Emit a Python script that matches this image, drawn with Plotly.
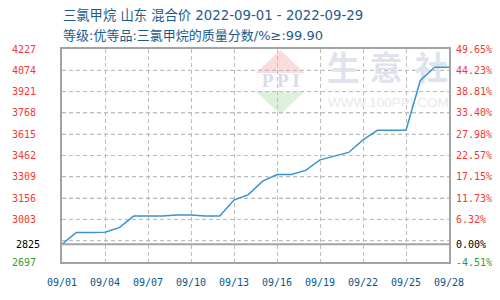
import plotly.graph_objects as go
import pandas as pd

# ---- data ----
dates = ["2022-09-%02d" % d for d in range(1, 29)]
prices = [2825, 2909, 2909, 2911, 2944, 3027, 3027, 3027, 3034, 3034,
          3027, 3027, 3142, 3181, 3278, 3325, 3325, 3355, 3431, 3458,
          3484, 3574, 3643, 3643, 3643, 4001, 4096, 4096]

x_tick_dates = ["2022-09-01", "2022-09-04", "2022-09-07", "2022-09-10", "2022-09-13",
                "2022-09-16", "2022-09-19", "2022-09-22", "2022-09-25", "2022-09-28"]
x_tick_labels = ["09/01", "09/04", "09/07", "09/10", "09/13",
                 "09/16", "09/19", "09/22", "09/25", "09/28"]

# left axis: regular grid ticks (2850 is an unlabeled grid line)
grid_vals = [4227, 4074, 3921, 3768, 3615, 3462, 3309, 3156, 3003, 2850, 2697]
grid_labels = ["4227", "4074", "3921", "3768", "3615", "3462", "3309", "3156", "3003", "", "2697"]
base_value = 2825
base_label = "2825"

# right axis (change vs. base)
pct_tick_vals = [4227, 4074, 3921, 3768, 3615, 3462, 3309, 3156, 3003, 2825, 2697]
pct_tick_labels = ["49.65%", "44.23%", "38.81%", "33.40%", "27.98%", "22.57%",
                   "17.15%", "11.73%", "6.32%", "0.00%", "-4.51%"]

title_1 = "三氯甲烷 山东 混合价 2022-09-01 - 2022-09-29"
title_2 = "等级:优等品:三氯甲烷的质量分数/%≥:99.90"

RED = "#f03838"
GREEN = "#2aa02a"
BLACK = "#000000"
GRID = "#bdbdbd"
BORDER = "#a3a3a3"
DASH = "4px,3px"
TICKFONT = "DejaVu Sans Mono, monospace"

x_range = ["2022-09-01", "2022-09-28"]
y_range = [2697, 4227]


def color_of(v):
    return RED if v > base_value else (BLACK if v == base_value else GREEN)


def colored(lbls, vals):
    return ['<span style="color:%s">%s</span>' % (color_of(v), t) if t else ""
            for t, v in zip(lbls, vals)]


# plot-area pixel -> axis value helpers (plot area is x 50..449, y 49..270)
t0, t1 = pd.Timestamp(x_range[0]), pd.Timestamp(x_range[1])


def px2date(p):
    return (t0 + (t1 - t0) * ((p - 50) / 399.0)).strftime("%Y-%m-%d %H:%M:%S")


def py2val(p):
    return y_range[0] + (y_range[1] - y_range[0]) * ((270 - p) / 221.0)


def px2x(p):
    return (p - 50) / 399.0


def py2y(p):
    return (270 - p) / 221.0


fig = go.Figure()

# horizontal dashed grid lines (drawn as a trace under the data)
gx, gy = [], []
for g in grid_vals[1:-1]:
    gx += [x_range[0], x_range[1], None]
    gy += [g, g, None]
fig.add_trace(go.Scatter(x=gx, y=gy, mode="lines",
                         line=dict(color=GRID, width=1, dash=DASH),
                         hoverinfo="skip", showlegend=False))

# watermark text (drawn as traces so the data line stays on top)
fig.add_trace(go.Scatter(x=[px2date(275.5)], y=[py2val(83)], mode="text", text=["<b>P P I</b>"],
                         textfont=dict(family="Liberation Serif, serif", size=19, color="#d6dcea"),
                         hoverinfo="skip", showlegend=False))
fig.add_trace(go.Scatter(x=[px2date(c) for c in [340, 384, 431]], y=[py2val(72.5)] * 3,
                         mode="text", text=["<b>生</b>", "<b>意</b>", "<b>社</b>"],
                         textfont=dict(family="Noto Sans CJK SC", size=33, color="#dfe3ee"),
                         hoverinfo="skip", showlegend=False))
fig.add_trace(go.Scatter(x=[px2date(386.5)], y=[py2val(106)], mode="text", text=["WWW.100PPI.COM"],
                         textfont=dict(family="Liberation Sans, Arial", size=13.5, color="#e8e8ea"),
                         hoverinfo="skip", showlegend=False))

# price line
fig.add_trace(go.Scatter(x=dates, y=prices, mode="lines",
                         line=dict(color="#3a93d0", width=1.5),
                         hoverinfo="skip", showlegend=False))

fig.update_layout(
    width=500, height=300,
    margin=dict(l=50, r=51, t=49, b=30, pad=0),
    paper_bgcolor="white", plot_bgcolor="white",
    font=dict(family=TICKFONT, size=10),
    xaxis=dict(
        type="date", range=x_range,
        tickvals=x_tick_dates, ticktext=x_tick_labels,
        tickfont=dict(color="#0b5688", size=10, family=TICKFONT),
        showgrid=True, gridcolor=GRID, gridwidth=1, griddash=DASH,
        showline=True, linecolor=BORDER, linewidth=2, mirror=True,
        ticks="", ticklabelstandoff=10, zeroline=False,
    ),
    yaxis=dict(
        range=y_range, tickvals=grid_vals,
        ticktext=colored(grid_labels, grid_vals),
        tickfont=dict(size=10, family=TICKFONT),
        showgrid=True, gridcolor=GRID, gridwidth=1, griddash=DASH,
        zeroline=False,
        showline=True, linecolor=BORDER, linewidth=2, mirror=True,
        ticks="", ticklabelstandoff=22,
    ),
)

# baseline (solid line at the base price) and its label
fig.add_shape(type="line", xref="paper", x0=0, x1=1, yref="y", y0=base_value, y1=base_value,
              line=dict(color=BORDER, width=2), layer="above")
fig.add_annotation(text=base_label, xref="paper", x=-22 / 399.0, yref="y", y=base_value,
                   xanchor="right", yanchor="middle", showarrow=False, borderpad=0,
                   font=dict(family=TICKFONT, size=10, color=BLACK))

# right-hand percentage labels
for v, t in zip(pct_tick_vals, pct_tick_labels):
    fig.add_annotation(text=t, xref="paper", x=1 + 6 / 399.0, yref="y", y=v,
                       xanchor="left", yanchor="middle", showarrow=False, borderpad=0,
                       font=dict(family=TICKFONT, size=10, color=color_of(v)))

# watermark logo triangles
fig.add_shape(type="path", xref="paper", yref="paper", layer="below",
              path="M %f %f L %f %f L %f %f Z" % (px2x(275), py2y(50), px2x(250), py2y(74), px2x(300), py2y(74)),
              fillcolor="#fbdcdc", line=dict(width=0))
fig.add_shape(type="path", xref="paper", yref="paper", layer="below",
              path="M %f %f L %f %f L %f %f Z" % (px2x(250), py2y(93), px2x(300), py2y(93), px2x(275), py2y(117)),
              fillcolor="#dcf0dc", line=dict(width=0))

# ---- titles ----
TITLEFONT = "DejaVu Sans, Noto Sans CJK SC"
fig.add_annotation(text=title_1, xref="paper", yref="paper", x=0, y=py2y(14),
                   xanchor="left", yanchor="middle", showarrow=False, borderpad=0,
                   font=dict(family=TITLEFONT, size=13.3, color="#1d5b8c"))
fig.add_annotation(text=title_2, xref="paper", yref="paper", x=0, y=py2y(35),
                   xanchor="left", yanchor="middle", showarrow=False, borderpad=0,
                   font=dict(family=TITLEFONT, size=13, color="#1d5b8c"))

fig.write_html("out.html")
